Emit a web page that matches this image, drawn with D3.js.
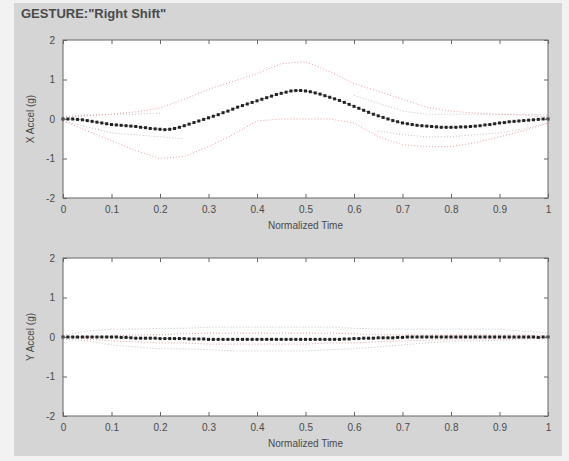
<!DOCTYPE html>
<html>
<head>
<meta charset="utf-8">
<script src="https://cdn.jsdelivr.net/npm/d3@7"></script>
<style>
  body { margin: 0; background: #f2f2f2; }
  svg { display: block; }
  text { font-family: 'Liberation Sans', Arial, sans-serif; fill: #4a4a4a; }
</style>
</head>
<body>
<div id="chart"></div>
<script>
const chartWidth = 569
const chartHeight = 461
const titleText = 'GESTURE:"Right Shift"'
const xLabel = 'Normalized Time'
const xTicks = [0, 0.1, 0.2, 0.3, 0.4, 0.5, 0.6, 0.7, 0.8, 0.9, 1]
const yTicks = [-2, -1, 0, 1, 2]

// mean trace, one value every 0.01 of normalized time
const xMean = [
  0.00, 0.00, 0.00, -0.01, -0.02, -0.04, -0.06, -0.08, -0.10, -0.12,
  -0.14, -0.15, -0.16, -0.17, -0.18, -0.19, -0.21, -0.22, -0.24, -0.25,
  -0.26, -0.27, -0.26, -0.24, -0.21, -0.17, -0.13, -0.09, -0.05, -0.01,
  0.03, 0.07, 0.11, 0.16, 0.20, 0.25, 0.30, 0.34, 0.38, 0.42,
  0.46, 0.50, 0.54, 0.58, 0.62, 0.65, 0.68, 0.71, 0.72, 0.72,
  0.71, 0.69, 0.66, 0.63, 0.59, 0.55, 0.51, 0.47, 0.42, 0.37,
  0.32, 0.27, 0.22, 0.17, 0.12, 0.08, 0.04, 0.00, -0.04, -0.07,
  -0.10, -0.12, -0.14, -0.16, -0.17, -0.18, -0.19, -0.20, -0.21, -0.21,
  -0.21, -0.21, -0.20, -0.20, -0.19, -0.18, -0.17, -0.15, -0.14, -0.12,
  -0.10, -0.09, -0.07, -0.06, -0.05, -0.04, -0.03, -0.02, -0.01, 0.00,
  0.00
]
const yMean = [
  0.00, 0.00, 0.00, 0.00, 0.00, 0.00, 0.00, 0.00, 0.00, 0.00,
  0.00, 0.00, -0.01, -0.01, -0.02, -0.03, -0.03, -0.03, -0.03, -0.03,
  -0.04, -0.04, -0.04, -0.04, -0.04, -0.04, -0.05, -0.05, -0.05, -0.05,
  -0.06, -0.06, -0.06, -0.06, -0.06, -0.06, -0.06, -0.06, -0.06, -0.06,
  -0.06, -0.06, -0.06, -0.06, -0.06, -0.06, -0.06, -0.06, -0.06, -0.06,
  -0.06, -0.06, -0.06, -0.06, -0.06, -0.06, -0.06, -0.06, -0.05, -0.05,
  -0.04, -0.04, -0.03, -0.03, -0.03, -0.02, -0.02, -0.02, -0.02, -0.01,
  -0.01, 0.00, 0.00, 0.00, 0.00, 0.00, 0.00, 0.00, 0.00, 0.00,
  0.00, 0.00, 0.00, 0.00, 0.00, 0.00, 0.00, 0.00, 0.00, 0.00,
  0.00, 0.00, 0.00, 0.00, 0.00, 0.00, 0.00, 0.00, -0.01, 0.00,
  0.00
]

// envelopes, one value every 0.05 (null = not drawn)
const xRedUpper = [0.05, 0.08, 0.12, 0.18, 0.28, 0.5, 0.75, 0.95, 1.15, 1.4, 1.45, 1.2, 0.9, 0.7, 0.5, 0.3, 0.2, 0.15, 0.12, 0.1, 0.05]
const xRedLower = [-0.05, -0.3, -0.55, -0.8, -1.0, -0.95, -0.7, -0.4, -0.05, 0.0, 0.0, 0.0, -0.1, -0.45, -0.65, -0.7, -0.7, -0.6, -0.45, -0.3, -0.1]
const xGrayUpper = [0.05, 0.1, 0.12, 0.12, 0.15, null, null, null, null, null, null, null, 0.6, 0.4, 0.2, 0.12, 0.12, 0.12, 0.12, 0.12, 0.1]
const xGrayLower = [-0.05, -0.2, -0.35, -0.4, -0.45, -0.5, null, null, null, null, null, null, null, -0.3, -0.4, -0.45, -0.45, -0.4, -0.35, -0.25, -0.1]
const yRedUpper = [0.0, 0.0, 0.02, 0.05, 0.06, 0.08, 0.1, 0.1, 0.1, 0.1, 0.1, 0.1, 0.08, 0.06, 0.05, 0.05, 0.05, 0.05, 0.05, 0.05, 0.02]
const yRedLower = [0.0, -0.05, -0.1, -0.12, -0.15, -0.15, -0.18, -0.18, -0.18, -0.18, -0.18, -0.15, -0.15, -0.12, -0.1, -0.08, -0.05, -0.05, -0.05, -0.03, 0.0]
const yGrayUpper = [0.05, 0.15, 0.2, 0.2, 0.22, 0.22, 0.25, 0.25, 0.25, 0.25, 0.25, 0.25, 0.22, 0.2, 0.2, 0.2, 0.2, 0.2, 0.2, 0.15, 0.1]
const yGrayLower = [-0.05, -0.1, -0.2, -0.25, -0.3, -0.3, -0.32, -0.35, -0.35, -0.35, -0.35, -0.32, -0.3, -0.25, -0.2, -0.15, -0.1, -0.1, -0.08, -0.05, -0.02]

const panels = [
  { top: 40, yLabel: 'X Accel (g)', mean: xMean, red: [xRedUpper, xRedLower], gray: [xGrayUpper, xGrayLower] },
  { top: 258, yLabel: 'Y Accel (g)', mean: yMean, red: [yRedUpper, yRedLower], gray: [yGrayUpper, yGrayLower] },
]

const plotLeft = 63
const plotRight = 548
const plotHeight = 158
const tickLen = 4

const svg = d3
  .select('#chart')
  .append('svg')
  .attr('width', chartWidth)
  .attr('height', chartHeight)

// figure background
svg
  .append('rect')
  .attr('x', 14)
  .attr('y', 3)
  .attr('width', 548)
  .attr('height', 453)
  .attr('fill', '#d5d5d5')

svg
  .append('text')
  .attr('x', 21)
  .attr('y', 18)
  .style('font-size', '13px')
  .style('font-weight', 'bold')
  .attr('fill', '#444')
  .text(titleText)

const x = d3.scaleLinear().domain([0, 1]).range([plotLeft, plotRight])

panels.forEach(p => drawPanel(p))

function drawPanel(p) {
  const y = d3.scaleLinear().domain([-2, 2]).range([p.top + plotHeight, p.top])
  const g = svg.append('g')

  g.append('rect')
    .attr('x', plotLeft)
    .attr('y', p.top)
    .attr('width', plotRight - plotLeft)
    .attr('height', plotHeight)
    .attr('fill', '#fff')

  const stepLine = step =>
    d3
      .line()
      .defined(d => d !== null)
      .x((d, i) => x(i * step))
      .y(d => y(d))

  // gray and red dotted envelopes
  p.gray.forEach(arr => {
    g.append('path')
      .attr('d', stepLine(0.05)(arr))
      .attr('fill', 'none')
      .attr('stroke', '#c4c4c4')
      .attr('stroke-width', 1)
      .attr('stroke-dasharray', '1,2')
  })
  p.red.forEach(arr => {
    g.append('path')
      .attr('d', stepLine(0.05)(arr))
      .attr('fill', 'none')
      .attr('stroke', '#eaa0a0')
      .attr('stroke-width', 1)
      .attr('stroke-dasharray', '1,2')
  })

  // mean trace with dot markers
  g.append('path')
    .attr('d', stepLine(0.01)(p.mean))
    .attr('fill', 'none')
    .attr('stroke', '#777')
    .attr('stroke-width', 0.6)
  g.selectAll('rect.pt')
    .data(p.mean)
    .enter()
    .append('rect')
    .attr('class', 'pt')
    .attr('x', (d, i) => x(i * 0.01) - 1.5)
    .attr('y', d => y(d) - 1.5)
    .attr('width', 3)
    .attr('height', 3)
    .attr('fill', '#222')

  // axes: ticks inward on every side, box frame
  const fmt = d => (d === 0 || d === 1 ? String(d) : d3.format('.1f')(d))
  const axisStyle = sel => {
    sel.select('.domain').remove()
    sel.selectAll('line').attr('stroke', '#666')
    sel.selectAll('text').style('font-size', '10px').attr('fill', '#4a4a4a')
  }

  g.append('g')
    .attr('transform', `translate(0,${p.top + plotHeight})`)
    .call(d3.axisBottom(x).tickValues(xTicks).tickFormat(fmt).tickSizeInner(-tickLen).tickPadding(8))
    .call(axisStyle)
  g.append('g')
    .attr('transform', `translate(0,${p.top})`)
    .call(d3.axisTop(x).tickValues(xTicks).tickFormat('').tickSizeInner(-tickLen))
    .call(axisStyle)
  g.append('g')
    .attr('transform', `translate(${plotLeft},0)`)
    .call(d3.axisLeft(y).tickValues(yTicks).tickFormat(d => String(d)).tickSizeInner(-tickLen).tickPadding(8))
    .call(axisStyle)
  g.append('g')
    .attr('transform', `translate(${plotRight},0)`)
    .call(d3.axisRight(y).tickValues(yTicks).tickFormat('').tickSizeInner(-tickLen))
    .call(axisStyle)

  g.append('rect')
    .attr('x', plotLeft)
    .attr('y', p.top)
    .attr('width', plotRight - plotLeft)
    .attr('height', plotHeight)
    .attr('fill', 'none')
    .attr('stroke', '#666')
    .attr('stroke-width', 1)

  g.append('text')
    .attr('x', (plotLeft + plotRight) / 2)
    .attr('y', p.top + plotHeight + 31)
    .attr('text-anchor', 'middle')
    .style('font-size', '10px')
    .text(xLabel)

  g.append('text')
    .attr('transform', `translate(34,${p.top + plotHeight / 2}) rotate(-90)`)
    .attr('text-anchor', 'middle')
    .style('font-size', '10px')
    .text(p.yLabel)
}
</script>
</body>
</html>
